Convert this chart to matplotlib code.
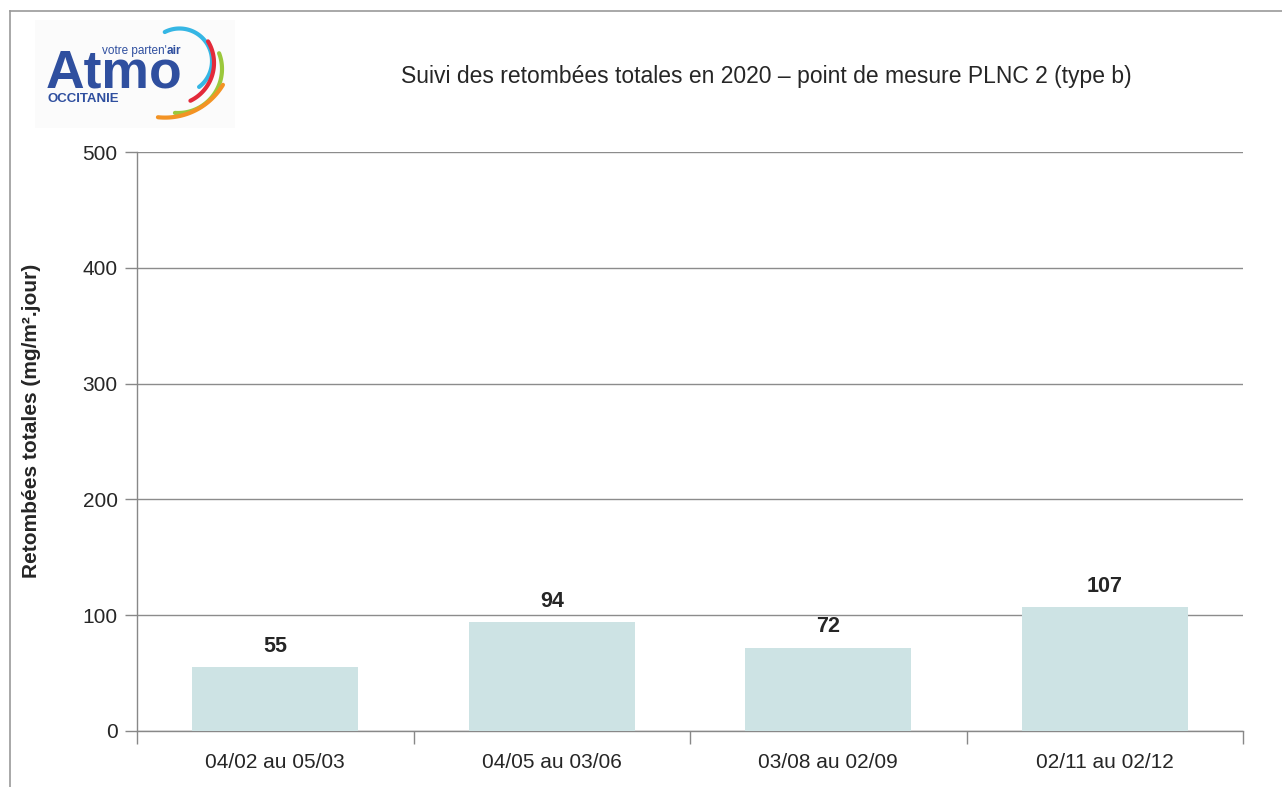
import numpy as np
import matplotlib.pyplot as plt
from matplotlib.lines import Line2D
from matplotlib.patches import Rectangle

plt.rcParams['font.family'] = ['Liberation Sans', 'DejaVu Sans']

# Données
periodes = ["04/02 au 05/03", "04/05 au 03/06", "03/08 au 02/09", "02/11 au 02/12"]
retombees = [55, 94, 72, 107]
yticks = [0, 100, 200, 300, 400, 500]

W, H = 1282, 787
fig = plt.figure(figsize=(W / 100, H / 100), dpi=100)

def fx(px):
    return px / W

def fy(py):
    return 1 - py / H

# Cadre gris (haut et gauche)
fig.add_artist(Line2D([fx(10), 1], [fy(11), fy(11)], color='#9a9a9a', lw=1.2))
fig.add_artist(Line2D([fx(10), fx(10)], [fy(11), 0], color='#9a9a9a', lw=1.2))

# Graphique principal
ax = fig.add_axes([fx(137), fy(731), fx(1243) - fx(137), fy(152) - fy(731)])
x = np.arange(len(periodes))
ax.bar(x, retombees, width=0.6, color='#cde3e4', zorder=3)
for xi, v in zip(x, retombees):
    ax.text(xi, v + 9, str(v), ha='center', va='bottom', fontsize=15.5,
            fontweight='bold', color='#262626')

ax.set_xlim(-0.5, len(periodes) - 0.5)
ax.set_ylim(0, 500)
ax.set_yticks(yticks)
ax.set_yticklabels([str(t) for t in yticks], fontsize=15, color='#262626')
ax.set_xticks(x)
ax.set_xticklabels(periodes, fontsize=15, color='#262626')
ax.set_xticks(np.arange(-0.5, len(periodes)), minor=True)
ax.tick_params(axis='x', which='major', length=0, pad=16)
ax.tick_params(axis='x', which='minor', length=9, color='#888888', width=1)
ax.tick_params(axis='y', length=9, color='#888888', width=1, pad=5)
ax.grid(axis='y', color='#8c8c8c', lw=1, zorder=0)
for s in ['top', 'right']:
    ax.spines[s].set_visible(False)
for s in ['left', 'bottom']:
    ax.spines[s].set_color('#888888')
    ax.spines[s].set_linewidth(1)

fig.text(fx(766), fy(77), "Suivi des retombées totales en 2020 – point de mesure PLNC 2 (type b)",
         ha='center', va='center', fontsize=16.5, color='#262626')
fig.text(fx(32), fy(421), "Retombées totales (mg/m².jour)", rotation=90,
         ha='center', va='center', fontsize=15, fontweight='bold', color='#262626')

# Logo Atmo Occitanie
lax = fig.add_axes([fx(35), fy(128), fx(235) - fx(35), fy(20) - fy(128)])
lax.set_xlim(35, 235)
lax.set_ylim(128, 20)
lax.axis('off')
lax.add_patch(Rectangle((35, 20), 200, 108, facecolor='#fbfbfb', edgecolor='none'))
bleu = '#2f4f9f'
lax.text(46, 87, "Atmo", fontsize=38.5, fontweight='bold', color=bleu, ha='left', va='baseline')
lax.text(167, 54, "votre parten'", fontsize=8.5, color=bleu, ha='right', va='baseline')
lax.text(167, 54, "air", fontsize=8.5, fontweight='bold', color=bleu, ha='left', va='baseline')
lax.text(48, 102, "OCCITANIE", fontsize=9.5, fontweight='bold', color=bleu, ha='left', va='baseline')

arcs = [
    ('#35b6e4', 179.5, 61, 32.5, -53, 117),
    ('#e32a3a', 172, 63, 42, -64, 31),
    ('#9bc83c', 178, 69, 44, -94, 21),
    ('#f39324', 165, 50, 67.6, -96, -31),
]
for col, cx, cy, r, t0, t1 in arcs:
    t = np.radians(np.linspace(t0, t1, 80))
    lax.plot(cx + r * np.cos(t), cy - r * np.sin(t), color=col, lw=3,
             solid_capstyle='round')

fig.savefig('out.png', dpi=100)
